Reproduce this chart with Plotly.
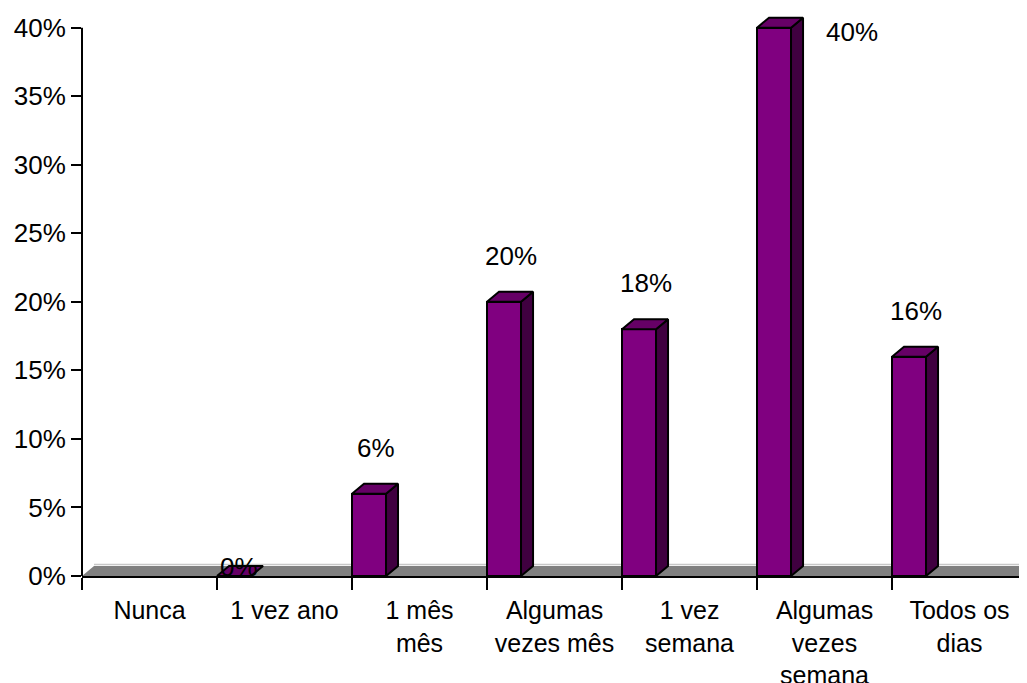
import plotly.graph_objects as go

# ---- data ----
categories = ["Nunca", "1 vez ano", "1 mês mês", "Algumas vezes mês",
              "1 vez semana", "Algumas vezes semana", "Todos os dias"]
tick_labels = ["Nunca", "1 vez ano", "1 mês<br>mês", "Algumas<br>vezes mês",
               "1 vez<br>semana", "Algumas<br>vezes<br>semana", "Todos os<br>dias"]
values = [None, 0.00, 0.06, 0.20, 0.18, 0.40, 0.16]
y_ticks = [0.00, 0.05, 0.10, 0.15, 0.20, 0.25, 0.30, 0.35, 0.40]
y_tick_text = ["0%", "5%", "10%", "15%", "20%", "25%", "30%", "35%", "40%"]

# ---- style / geometry ----
FONT = "Liberation Sans, Arial, sans-serif"
FRONT, TOP, SIDE = "#800080", "#660066", "#400040"
BAR_W = 0.252      # front face width (category units)
DX = 0.089         # 3D depth, horizontal (category units)
DY = 0.0073        # 3D depth, vertical (value units)
Y_MAX_AXIS = 0.40
Y_RANGE = [0, 0.41]
X_RANGE = [-0.5, len(categories) - 0.5]

idx = list(range(len(categories)))

fig = go.Figure()

# front faces
fig.add_trace(go.Bar(
    x=idx, y=values,
    width=BAR_W, offset=-0.5,
    marker=dict(color=FRONT, line=dict(color="black", width=2)),
    hoverinfo="skip", showlegend=False,
))

# side and top faces
sx, sy, tx, ty = [], [], [], []
for i, v in zip(idx, values):
    if v is None:
        continue
    x0 = i - 0.5
    x1 = x0 + BAR_W
    if v > 0:
        sx += [x1, x1, x1 + DX, x1 + DX, x1, None]
        sy += [0, v, v + DY, DY, 0, None]
    tx += [x0, x1, x1 + DX, x0 + DX, x0, None]
    ty += [v, v, v + DY, v + DY, v, None]

fig.add_trace(go.Scatter(x=sx, y=sy, mode="lines", fill="toself", fillcolor=SIDE,
                         line=dict(color="black", width=2), hoverinfo="skip", showlegend=False))
fig.add_trace(go.Scatter(x=tx, y=ty, mode="lines", fill="toself", fillcolor=TOP,
                         line=dict(color="black", width=2), hoverinfo="skip", showlegend=False))

# data labels
for i, v in zip(idx, values):
    if v is None:
        continue
    if v >= Y_MAX_AXIS:
        ax, ys = i - 0.5 + 0.70, -4
    elif v == 0:
        ax, ys = i - 0.5 + 0.16, 9
    else:
        ax, ys = i - 0.5 + 0.18, 46
    fig.add_annotation(x=ax, y=v, xref="x", yref="y", yshift=ys,
                       text=f"{round(v * 100)}%", showarrow=False,
                       font=dict(family=FONT, size=26, color="black"))

# floor (3D base) and y-axis line
fig.add_shape(type="path", xref="x", yref="y", layer="below",
              path=f"M {X_RANGE[0]},0 L {X_RANGE[0] + DX},{DY} L {X_RANGE[1]},{DY} L {X_RANGE[1]},0 Z",
              fillcolor="#808080", line=dict(width=0))
fig.add_shape(type="line", xref="x", yref="y", layer="below",
              x0=X_RANGE[0] + DX, x1=X_RANGE[1], y0=DY * 1.15, y1=DY * 1.15,
              line=dict(color="#c8c8c8", width=1.5))
fig.add_shape(type="line", xref="paper", yref="paper", layer="above",
              x0=0, x1=0, y0=0, y1=Y_MAX_AXIS / Y_RANGE[1],
              line=dict(color="black", width=2))

fig.update_layout(
    width=1019, height=675,
    margin=dict(l=74, r=0, t=6, b=107),
    paper_bgcolor="white", plot_bgcolor="white",
    font=dict(family=FONT, size=25, color="black"),
    showlegend=False, bargap=0,
    xaxis=dict(
        range=X_RANGE, tickmode="array", tickvals=idx, ticktext=tick_labels,
        ticks="", showgrid=False, zeroline=False, automargin=False,
        showline=True, linecolor="black", linewidth=2,
        ticklabelstandoff=11,
        tickfont=dict(family=FONT, size=25, color="black"),
        minor=dict(tickmode="array", tickvals=[i - 0.5 for i in range(len(categories) + 1)],
                   ticks="outside", ticklen=12, tickwidth=2, tickcolor="black", showgrid=False),
    ),
    yaxis=dict(
        range=Y_RANGE, tickmode="array", tickvals=y_ticks, ticktext=y_tick_text,
        ticks="outside", ticklen=10, tickwidth=2, tickcolor="black",
        showline=False, showgrid=False, zeroline=False, automargin=False,
        tickfont=dict(family=FONT, size=26, color="black"),
    ),
)

fig.write_html("out.html")
